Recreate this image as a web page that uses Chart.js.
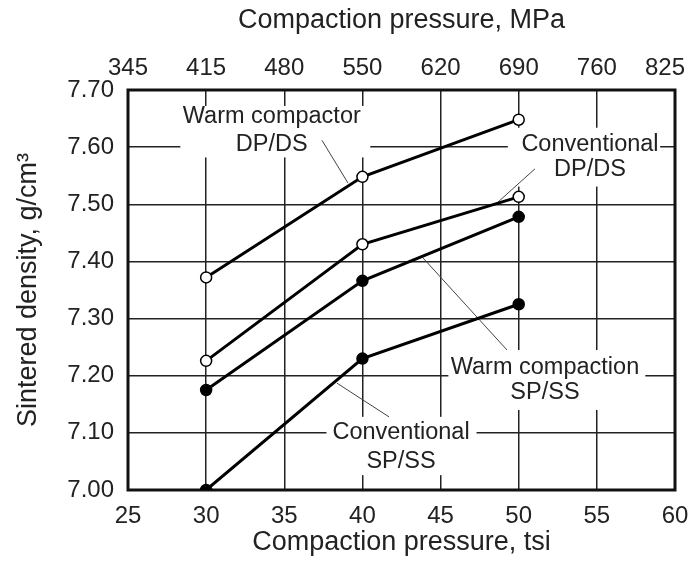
<!DOCTYPE html>
<html>
<head>
<meta charset="utf-8">
<script src="https://cdn.jsdelivr.net/npm/chart.js@4.4.1/dist/chart.umd.min.js"></script>
<style>
  html, body { margin: 0; padding: 0; background: #fff; }
  #wrap { width: 691px; height: 569px; }
</style>
</head>
<body>
<div id="wrap"><canvas id="myChart"></canvas></div>
<script>
// pressures in tsi, and matching MPa labels for the top axis
var tsi = [30, 40, 50];
var tsiTicks = [25, 30, 35, 40, 45, 50, 55, 60];
var mpaTicks = ['345', '415', '480', '550', '620', '690', '760', '825\u00a0\u00a0\u00a0'];
var densityTicks = [7.0, 7.1, 7.2, 7.3, 7.4, 7.5, 7.6, 7.7];

// sintered density, g/cm3
var warmDPDS = [7.372, 7.548, 7.648];
var convDPDS = [7.226, 7.430, 7.513];
var warmSPSS = [7.175, 7.366, 7.478];
var convSPSS = [7.000, 7.230, 7.325];

// callout labels, placed in data units
var callouts = [
    { text: ['Warm compactor', 'DP/DS'], x: 34.2, y: [7.653, 7.604], box: [28.35, 40.5, 7.672, 7.582],
      leader: [37.41, 7.612, 39.08, 7.537] },
    { text: ['Conventional', 'DP/DS'], x: 54.56, y: [7.604, 7.560], box: [49.3, 59.05, 7.634, 7.531],
      leader: [51.04, 7.562, 48.68, 7.504] },
    { text: ['Warm compaction', 'SP/SS'], x: 51.68, y: [7.215, 7.170], box: [45.5, 58.1, 7.245, 7.140],
      leader: [43.88, 7.406, 49.25, 7.245] },
    { text: ['Conventional', 'SP/SS'], x: 42.47, y: [7.100, 7.049], box: [37.7, 47.3, 7.128, 7.026],
      leader: [38.37, 7.187, 41.70, 7.128] }
];

var font = 'Liberation Sans, Arial, Helvetica, sans-serif';

function series(vals, open) {
    return {
        data: tsi.map(function (t, i) { return { x: t, y: vals[i] }; }),
        borderColor: '#000',
        borderWidth: 3,
        pointRadius: 5.5,
        pointBorderWidth: 1.5,
        pointBorderColor: '#000',
        pointBackgroundColor: open ? '#fff' : '#000',
        tension: 0
    };
}

function noSidePad(s, h) {
    s.height = h;
    s.paddingLeft = 0;
    s.paddingRight = 0;
}

var calloutPlugin = {
    id: 'callouts',
    beforeDatasetsDraw: function (chart) {
        var ctx = chart.ctx, xs = chart.scales.x, ys = chart.scales.y;
        ctx.save();
        callouts.forEach(function (c) {
            var x0 = xs.getPixelForValue(c.box[0]), x1 = xs.getPixelForValue(c.box[1]);
            var y0 = ys.getPixelForValue(c.box[2]), y1 = ys.getPixelForValue(c.box[3]);
            ctx.fillStyle = '#fff';
            ctx.fillRect(x0, y0, x1 - x0, y1 - y0);
            ctx.fillStyle = '#222';
            ctx.font = '23.5px ' + font;
            ctx.textAlign = 'center';
            ctx.textBaseline = 'middle';
            c.text.forEach(function (t, i) {
                ctx.fillText(t, xs.getPixelForValue(c.x), ys.getPixelForValue(c.y[i]));
            });
            ctx.strokeStyle = '#444';
            ctx.lineWidth = 1;
            ctx.beginPath();
            ctx.moveTo(xs.getPixelForValue(c.leader[0]), ys.getPixelForValue(c.leader[1]));
            ctx.lineTo(xs.getPixelForValue(c.leader[2]), ys.getPixelForValue(c.leader[3]));
            ctx.stroke();
        });
        var a = chart.chartArea;
        ctx.strokeStyle = '#111';
        ctx.lineWidth = 3;
        ctx.strokeRect(a.left, a.top, a.right - a.left, a.bottom - a.top);
        ctx.restore();
    }
};

var ctx = document.getElementById('myChart').getContext('2d');
var myChart = new Chart(ctx, {
    type: 'line',
    data: {
        datasets: [
            series(warmDPDS, true),
            series(convDPDS, true),
            series(warmSPSS, false),
            series(convSPSS, false)
        ]
    },
    options: {
        responsive: true,
        maintainAspectRatio: false,
        animation: false,
        layout: { padding: { left: 0, right: 16, top: 0, bottom: 0 } },
        plugins: { legend: { display: false }, tooltip: { enabled: false } },
        scales: {
            x: {
                type: 'linear',
                position: 'bottom',
                min: 25, max: 60,
                afterBuildTicks: function (s) { s.ticks = tsiTicks.map(function (v) { return { value: v }; }); },
                afterFit: function (s) { noSidePad(s, 79); },
                grid: { color: '#222', lineWidth: 1.5, drawTicks: false },
                border: { display: false },
                ticks: { color: '#222', padding: 12, maxRotation: 0, font: { size: 24, family: font } },
                title: { display: true, text: 'Compaction pressure, tsi', color: '#222', padding: { top: 0, bottom: 10 },
                         font: { size: 27, family: font } }
            },
            x2: {
                type: 'linear',
                position: 'top',
                min: 25, max: 60,
                afterBuildTicks: function (s) { s.ticks = tsiTicks.map(function (v) { return { value: v }; }); },
                afterFit: function (s) { noSidePad(s, 90); },
                grid: { display: false, drawTicks: false },
                border: { display: false },
                ticks: {
                    color: '#222', padding: 7, maxRotation: 0, font: { size: 24, family: font },
                    callback: function (v) { return mpaTicks[tsiTicks.indexOf(v)]; }
                },
                title: { display: true, text: 'Compaction pressure, MPa', color: '#222', padding: { top: 4, bottom: 0 },
                         font: { size: 27, family: font } }
            },
            y: {
                min: 7.0, max: 7.7,
                afterBuildTicks: function (s) { s.ticks = densityTicks.map(function (v) { return { value: v }; }); },
                afterFit: function (s) { s.width = 128; },
                grid: { color: '#222', lineWidth: 1.5, drawTicks: false },
                border: { display: false },
                ticks: {
                    color: '#222', padding: 14, font: { size: 24, family: font },
                    callback: function (v) { return v.toFixed(2); }
                },
                title: { display: true, text: 'Sintered density, g/cm\u00b3', color: '#222', padding: { top: 12, bottom: 0 },
                         font: { size: 27, family: font } }
            }
        }
    },
    plugins: [calloutPlugin]
});
</script>
</body>
</html>
